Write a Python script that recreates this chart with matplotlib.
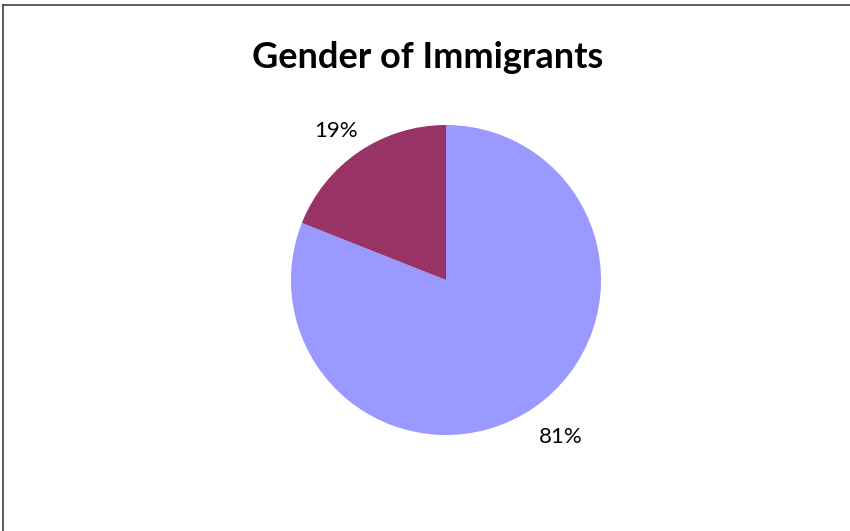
import matplotlib
matplotlib.use('Agg')
import matplotlib.pyplot as plt
from matplotlib.lines import Line2D

# data
labels = ['Male', 'Female']
shares = [81, 19]
colors = ['#9999FF', '#993366']

W, H = 850, 531
fig = plt.figure(figsize=(W / 100, H / 100), dpi=100)

# chart border (only top and left edges are visible in the crop)
fig.add_artist(Line2D([3 / W, 1.0], [1 - 5 / H, 1 - 5 / H], color='#404040', lw=1.2))
fig.add_artist(Line2D([3 / W, 3 / W], [0.0, 1 - 5 / H], color='#404040', lw=1.2))

fig.text(428 / W, 1 - 57 / H, 'Gender of Immigrants', ha='center', va='center',
         fontsize=26, fontweight='bold', family='Lato')

# pie centred at (446, 280) px, radius 155 px
cx, cy, r = 446, 280, 155
ax = fig.add_axes([(cx - r) / W, 1 - (cy + r) / H, 2 * r / W, 2 * r / H])
wedges, texts, autotexts = ax.pie(shares, colors=colors, startangle=90, counterclock=False,
                                  autopct='%d%%', pctdistance=1.25,
                                  textprops=dict(fontsize=16, family='Lato', color='black'))
# excel "best fit" label spots
autotexts[0].set_position((0.74, -1.01))
autotexts[1].set_position((-0.71, 0.96))
ax.set_xlim(-1, 1)
ax.set_ylim(-1, 1)
ax.set_aspect('equal')
ax.axis('off')

plt.savefig('out.png', dpi=100)
